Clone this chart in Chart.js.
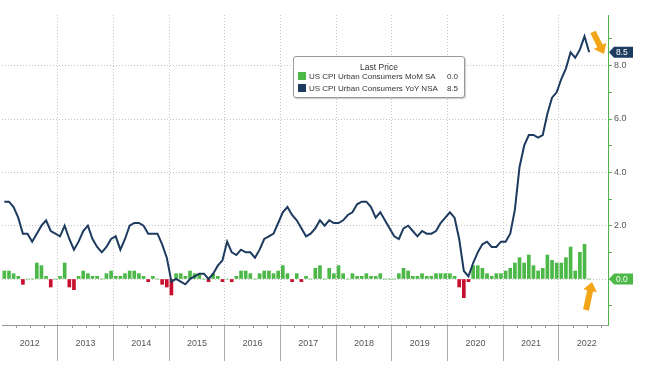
<!DOCTYPE html>
<html>
<head>
<meta charset="utf-8">
<script src="https://cdn.jsdelivr.net/npm/chart.js@4.4.0/dist/chart.umd.min.js"></script>
<style>
html,body{margin:0;padding:0;background:#fff;}
#wrap{position:relative;width:661px;height:371px;}
#legend{position:absolute;left:293px;top:56px;width:172px;height:42px;box-sizing:border-box;border:1px solid #999;border-radius:3px;background:#fff;box-shadow:1px 1px 1px rgba(0,0,0,0.2);font:8px "Liberation Sans",Arial,sans-serif;color:#333;}
#legend .ttl{position:absolute;left:0;right:0;top:5px;text-align:center;font-size:8.5px;}
#legend .row{position:absolute;left:4px;right:6px;height:10px;line-height:10px;white-space:nowrap;}
#legend .sw{display:inline-block;width:8px;height:8px;vertical-align:-1px;margin-right:3px;}
#legend .val{position:absolute;right:0;top:0;}
</style>
</head>
<body>
<div id="wrap">
<canvas id="cpiChart" width="661" height="371"></canvas>
<div id="legend">
  <div class="ttl">Last Price</div>
  <div class="row" style="top:15px"><span class="sw" style="background:#4cb847"></span>US CPI Urban Consumers MoM SA<span class="val">0.0</span></div>
  <div class="row" style="top:27px"><span class="sw" style="background:#1d3a5f"></span>US CPI Urban Consumers YoY NSA<span class="val">8.5</span></div>
</div>
</div>
<script>
// monthly, Jan 2012 .. Jul 2022
const years = [2012, 2013, 2014, 2015, 2016, 2017, 2018, 2019, 2020, 2021, 2022];

const cpiYoY = [
  2.9, 2.9, 2.7, 2.3, 1.7, 1.7, 1.4, 1.7, 2.0, 2.2, 1.8, 1.7,
  1.6, 2.0, 1.5, 1.1, 1.4, 1.8, 2.0, 1.5, 1.2, 1.0, 1.2, 1.5,
  1.6, 1.1, 1.5, 2.0, 2.1, 2.1, 2.0, 1.7, 1.7, 1.7, 1.3, 0.8,
  -0.1, 0.0, -0.1, -0.2, 0.0, 0.1, 0.2, 0.2, 0.0, 0.2, 0.5, 0.7,
  1.4, 1.0, 0.9, 1.1, 1.0, 1.0, 0.8, 1.1, 1.5, 1.6, 1.7, 2.1,
  2.5, 2.7, 2.4, 2.2, 1.9, 1.6, 1.7, 1.9, 2.2, 2.0, 2.2, 2.1,
  2.1, 2.2, 2.4, 2.5, 2.8, 2.9, 2.9, 2.7, 2.3, 2.5, 2.2, 1.9,
  1.6, 1.5, 1.9, 2.0, 1.8, 1.6, 1.8, 1.7, 1.7, 1.8, 2.1, 2.3,
  2.5, 2.3, 1.5, 0.3, 0.1, 0.6, 1.0, 1.3, 1.4, 1.2, 1.2, 1.4,
  1.4, 1.7, 2.6, 4.2, 5.0, 5.4, 5.4, 5.3, 5.4, 6.2, 6.8, 7.0,
  7.5, 7.9, 8.5, 8.3, 8.6, 9.1, 8.5
];

const cpiMoM = [
  0.3, 0.3, 0.2, 0.1, -0.2, 0.0, 0.0, 0.6, 0.5, 0.1, -0.3, 0.0,
  0.1, 0.6, -0.3, -0.4, 0.1, 0.3, 0.2, 0.1, 0.1, 0.0, 0.2, 0.3,
  0.1, 0.1, 0.2, 0.3, 0.3, 0.2, 0.1, -0.1, 0.1, 0.0, -0.2, -0.3,
  -0.6, 0.2, 0.2, 0.1, 0.3, 0.2, 0.2, 0.0, -0.1, 0.2, 0.1, -0.1,
  0.0, -0.1, 0.1, 0.3, 0.3, 0.2, 0.0, 0.2, 0.3, 0.3, 0.2, 0.3,
  0.5, 0.2, -0.1, 0.2, -0.1, 0.1, 0.0, 0.4, 0.5, 0.0, 0.4, 0.2,
  0.5, 0.2, 0.0, 0.2, 0.1, 0.1, 0.2, 0.1, 0.1, 0.2, 0.0, 0.0,
  0.0, 0.2, 0.4, 0.3, 0.1, 0.1, 0.2, 0.1, 0.1, 0.2, 0.2, 0.2,
  0.2, 0.1, -0.3, -0.7, -0.1, 0.5, 0.5, 0.4, 0.2, 0.1, 0.2, 0.2,
  0.3, 0.4, 0.6, 0.8, 0.6, 0.9, 0.5, 0.3, 0.4, 0.9, 0.7, 0.6,
  0.6, 0.8, 1.2, 0.3, 1.0, 1.3, 0.0
];

const yTicks = [0, 2, 4, 6, 8];
const lastTags = [
  {value: 8.5, text: "8.5", color: "#1d3a5f"},
  {value: 0.0, text: "0.0", color: "#4cb847"}
];

const GREEN = "#4cb847";
const RED = "#c8102e";
const NAVY = "#1d3a5f";

// x position of each month (decimal year, mid-month)
const monthX = cpiYoY.map((v, i) => years[0] + Math.floor(i / 12) + ((i % 12) + 0.5) / 12);

const extrasPlugin = {
  id: "extras",
  afterDatasetsDraw(chart) {
    const ctx = chart.ctx;
    const xs = chart.scales.x;
    const ys = chart.scales.y;
    const area = chart.chartArea;

    // quarterly minor ticks on the time axis
    ctx.save();
    ctx.strokeStyle = "#999";
    ctx.lineWidth = 1;
    for (let q = years[0] * 4; q <= xs.max * 4; q++) {
      if (q % 4 === 0) continue;
      const x = Math.round(xs.getPixelForValue(q / 4)) + 0.5;
      ctx.beginPath();
      ctx.moveTo(x, area.bottom);
      ctx.lineTo(x, area.bottom + 3);
      ctx.stroke();
    }
    ctx.restore();

    // last value tags on the right axis
    ctx.save();
    ctx.font = "8.5px 'Liberation Sans', Arial, sans-serif";
    ctx.textBaseline = "middle";
    ctx.textAlign = "left";
    lastTags.forEach(t => {
      const y = ys.getPixelForValue(t.value);
      const x0 = area.right + 1;
      ctx.fillStyle = t.color;
      ctx.beginPath();
      ctx.moveTo(x0, y);
      ctx.lineTo(x0 + 5, y - 5.5);
      ctx.lineTo(x0 + 24, y - 5.5);
      ctx.lineTo(x0 + 24, y + 5.5);
      ctx.lineTo(x0 + 5, y + 5.5);
      ctx.closePath();
      ctx.fill();
      ctx.fillStyle = "#fff";
      ctx.fillText(t.text, x0 + 7, y + 0.5);
    });
    ctx.restore();

    // orange pointer arrows
    const arrow = (tx, ty, hx, hy) => {
      const ang = Math.atan2(hy - ty, hx - tx);
      const len = Math.hypot(hx - tx, hy - ty);
      ctx.save();
      ctx.translate(tx, ty);
      ctx.rotate(ang);
      ctx.fillStyle = "#f2a516";
      ctx.beginPath();
      ctx.moveTo(0, -3);
      ctx.lineTo(len - 9, -3);
      ctx.lineTo(len - 9, -7);
      ctx.lineTo(len, 0);
      ctx.lineTo(len - 9, 7);
      ctx.lineTo(len - 9, 3);
      ctx.lineTo(0, 3);
      ctx.closePath();
      ctx.fill();
      ctx.restore();
    };
    arrow(593, 32, 604, 54);
    arrow(586, 310, 592, 282);
  }
};

new Chart(document.getElementById("cpiChart"), {
  data: {
    datasets: [
      {
        type: "line",
        label: "US CPI Urban Consumers YoY NSA",
        data: cpiYoY.map((v, i) => ({x: monthX[i], y: v})),
        borderColor: NAVY,
        borderWidth: 2,
        pointRadius: 0,
        tension: 0,
        order: 0
      },
      {
        type: "bar",
        label: "US CPI Urban Consumers MoM SA",
        data: cpiMoM.map((v, i) => ({x: monthX[i], y: v})),
        backgroundColor: cpiMoM.map(v => v < 0 ? RED : GREEN),
        barThickness: 3,
        order: 1
      }
    ]
  },
  options: {
    responsive: false,
    animation: false,
    layout: {padding: {left: 2, top: 15, right: 0, bottom: 0}},
    plugins: {legend: {display: false}, tooltip: {enabled: false}},
    scales: {
      x: {
        type: "linear",
        offset: false,
        min: years[0],
        max: 2022.88,
        afterFit: s => { s.height = 46; },
        ticks: {
          stepSize: 1,
          includeBounds: false,
          autoSkip: false,
          maxRotation: 0,
          labelOffset: 27.8,
          padding: -23,
          color: "#555",
          font: {family: "'Liberation Sans', Arial, sans-serif", size: 9},
          callback: v => years.includes(v) ? String(v) : ""
        },
        grid: {
          offset: false,
          color: c => (c.tick && c.tick.value === years[0]) ? "transparent" : "#c4c4c4",
          tickColor: c => (c.tick && c.tick.value === years[0]) ? "transparent" : "#aaa",
          tickLength: 36,
          tickBorderDash: []
        },
        border: {color: "#999", dash: [1, 2]}
      },
      y: {
        position: "right",
        min: -1.725,
        max: 9.9,
        afterFit: s => { s.width = 53; },
        ticks: {
          stepSize: 1,
          includeBounds: false,
          padding: 2,
          color: "#555",
          font: {family: "'Liberation Sans', Arial, sans-serif", size: 9},
          callback: v => (yTicks.includes(v) && v !== 0) ? v.toFixed(1) : ""
        },
        grid: {
          color: c => (c.tick && yTicks.includes(c.tick.value)) ? "#c4c4c4" : "transparent",
          tickColor: GREEN,
          tickLength: 4,
          tickBorderDash: []
        },
        border: {color: GREEN, dash: [1, 2]}
      }
    }
  },
  plugins: [extrasPlugin]
});
</script>
</body>
</html>
